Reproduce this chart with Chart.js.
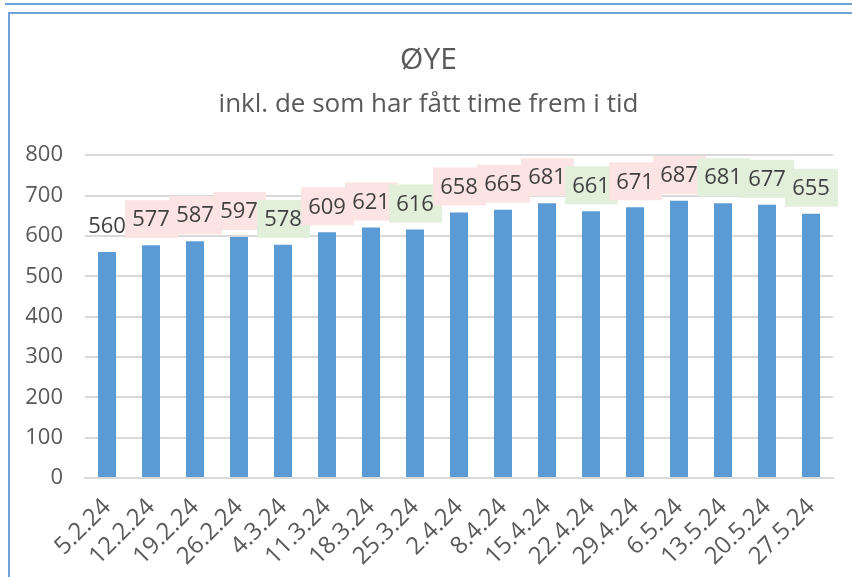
<!DOCTYPE html>
<html>
<head>
<meta charset="utf-8">
<script src="https://cdn.jsdelivr.net/npm/chart.js@4.4.1/dist/chart.umd.min.js"></script>
<style>
  body { margin: 0; background: #fff; }
  #topline { position: absolute; left: 5px; right: 0; top: 3px; border-top: 2px solid #6fa3d8; }
  #box { position: absolute; left: 8px; top: 12px; right: 0; bottom: 0; border-left: 2px solid #6fa3d8; border-top: 2px solid #6fa3d8; }
  #wrap { position: absolute; left: 10px; top: 14px; width: 842px; height: 563px; }
</style>
</head>
<body>
<div id="topline"></div>
<div id="box"></div>
<div id="wrap"><canvas id="myChart"></canvas></div>
<script>
const labels = ["5.2.24", "12.2.24", "19.2.24", "26.2.24", "4.3.24", "11.3.24", "18.3.24", "25.3.24", "2.4.24", "8.4.24", "15.4.24", "22.4.24", "29.4.24", "6.5.24", "13.5.24", "20.5.24", "27.5.24"];
const values = [560, 577, 587, 597, 578, 609, 621, 616, 658, 665, 681, 661, 671, 687, 681, 677, 655];
const yTicks = [0, 100, 200, 300, 400, 500, 600, 700, 800];

const FONT = "'Open Sans', sans-serif";

// value labels above bars, pink box when up from last week, green when down
const valueLabels = {
  id: "valueLabels",
  afterDatasetsDraw(chart) {
    const c = chart.ctx;
    const meta = chart.getDatasetMeta(0);
    c.save();
    c.font = "22px " + FONT;
    c.textAlign = "center";
    c.textBaseline = "middle";
    meta.data.forEach((bar, i) => {
      const v = values[i];
      const cy = bar.y - 26;
      if (i > 0) {
        c.fillStyle = v >= values[i - 1] ? "#fde4e4" : "#e2efda";
        c.fillRect(bar.x - 26, cy - 19, 53, 38);
      }
      c.fillStyle = "#404040";
      c.fillText(String(v), bar.x, cy + 1);
    });
    c.restore();
  },
};

const ctx = document.getElementById("myChart");
new Chart(ctx, {
  type: "bar",
  data: {
    labels: labels,
    datasets: [
      {
        data: values,
        backgroundColor: "#5b9bd5",
        categoryPercentage: 1,
        barPercentage: 0.41,
      },
    ],
  },
  plugins: [valueLabels],
  options: {
    responsive: true,
    maintainAspectRatio: false,
    animation: false,
    layout: { autoPadding: false, padding: { left: 14, right: 19, top: 10, bottom: 0 } },
    plugins: {
      legend: { display: false },
      tooltip: { enabled: false },
      title: {
        display: true,
        text: "ØYE",
        color: "#595959",
        font: { family: FONT, size: 30, weight: "normal", lineHeight: 1.2 },
        padding: { top: 18, bottom: 11 },
      },
      subtitle: {
        display: true,
        text: "inkl. de som har fått time frem i tid",
        color: "#595959",
        font: { family: FONT, size: 26, weight: "normal", lineHeight: 1.2 },
        padding: { top: 0, bottom: 35 },
      },
    },
    scales: {
      x: {
        grid: { display: false },
        border: { color: "#d9d9d9", width: 2 },
        afterFit: (axis) => {
          axis.height = 99;
        },
        ticks: {
          color: "#595959",
          font: { family: FONT, size: 24 },
          autoSkip: false,
          maxRotation: 45,
          minRotation: 45,
          padding: 7,
        },
      },
      y: {
        min: 0,
        max: 800,
        border: { display: false },
        grid: { color: "#d9d9d9", lineWidth: 2, drawTicks: false },
        afterBuildTicks: (axis) => {
          axis.ticks = yTicks.map((v) => ({ value: v }));
        },
        afterFit: (axis) => {
          axis.width = 61;
        },
        ticks: {
          color: "#595959",
          font: { family: FONT, size: 22 },
          padding: 22,
        },
      },
    },
  },
});
</script>
</body>
</html>
